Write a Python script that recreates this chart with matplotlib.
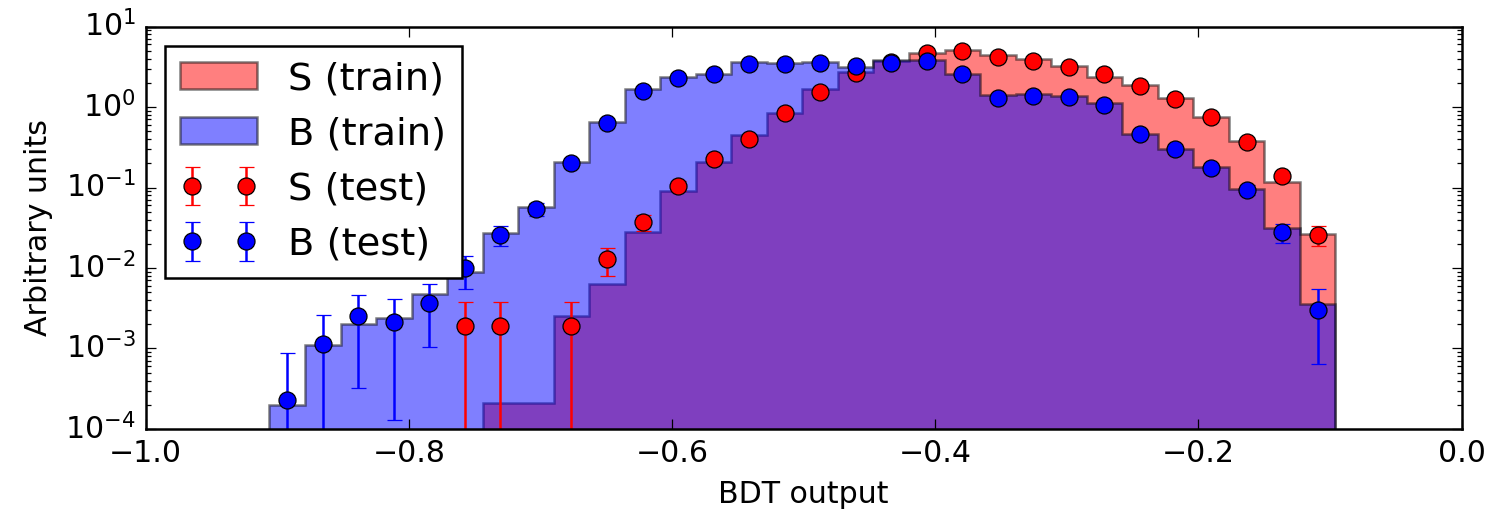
import numpy as np
import matplotlib
matplotlib.use("Agg")
import matplotlib.pyplot as plt

plt.style.use('classic')

# ---- data ----
bin_low, bin_high, n_bins = -0.906, -0.096, 30

s_train = [0, 0, 0, 0, 0, 0, 2.1e-4, 2.1e-4, 2.5e-3, 6.4e-3,
           0.028, 0.091, 0.206, 0.45, 0.85, 1.66, 2.75, 3.74, 4.75, 5.1,
           4.4, 3.93, 3.25, 2.39, 1.88, 1.29, 0.76, 0.38, 0.116, 0.0264]

b_train = [2.0e-4, 1.1e-3, 2.0e-3, 2.4e-3, 4.7e-3, 9.0e-3, 0.027, 0.058, 0.206, 0.65,
           1.66, 2.39, 2.58, 3.6, 3.5, 3.6, 3.18, 3.85, 3.85, 2.58,
           1.41, 1.44, 1.37, 1.13, 0.46, 0.30, 0.18, 0.096, 0.031, 3.56e-3]

s_test = [np.nan, np.nan, np.nan, np.nan, np.nan, 1.9e-3, 1.9e-3, np.nan, 1.9e-3, 0.013,
          0.037, 0.105, 0.228, 0.40, 0.84, 1.54, 2.63, 3.6, 4.67, 5.0,
          4.24, 3.78, 3.18, 2.58, 1.83, 1.25, 0.76, 0.37, 0.139, 0.026]

b_test = [2.3e-4, 1.15e-3, 2.5e-3, 2.15e-3, 3.7e-3, 9.9e-3, 0.026, 0.054, 0.204, 0.64,
          1.56, 2.28, 2.58, 3.4, 3.4, 3.56, 3.27, 3.56, 3.74, 2.58,
          1.31, 1.39, 1.32, 1.06, 0.46, 0.30, 0.173, 0.093, 0.028, 3.05e-3]

# weight of a single test event (normalised histogram)
event_weight = 1.9e-3

edges = np.linspace(bin_low, bin_high, n_bins + 1)
centers = 0.5 * (edges[:-1] + edges[1:])

s_test = np.array(s_test, dtype=float)
b_test = np.array(b_test, dtype=float)
s_err = np.sqrt(s_test * event_weight)
b_err = np.sqrt(b_test * event_weight)

# ---- figure ----
W, H, DPI = 1501, 511, 180
fig = plt.figure(figsize=(W / DPI, H / DPI), dpi=DPI, facecolor='white')
ax = fig.add_axes([0.0971, 0.1605, 0.9738 - 0.0971, 0.9481 - 0.1605])

ax.hist(centers, bins=edges, weights=s_train, histtype='stepfilled',
        color='r', alpha=0.5, edgecolor='k', label='S (train)')
ax.hist(centers, bins=edges, weights=b_train, histtype='stepfilled',
        color='b', alpha=0.5, edgecolor='k', label='B (train)')

ax.errorbar(centers, s_test, yerr=s_err, fmt='o', c='r', ms=6.8, label='S (test)')
ax.errorbar(centers, b_test, yerr=b_err, fmt='o', c='b', ms=6.8, label='B (test)')

ax.set_yscale('log')
ax.set_xlim(-1.0, 0.0)
ax.set_ylim(1e-4, 10)
ax.set_xticks([-1.0, -0.8, -0.6, -0.4, -0.2, 0.0])
ax.set_xlabel('BDT output')
ax.set_ylabel('Arbitrary units')
ax.legend(loc='upper left', fontsize=15.4)

fig.savefig('out.png', dpi=DPI, facecolor='white')
